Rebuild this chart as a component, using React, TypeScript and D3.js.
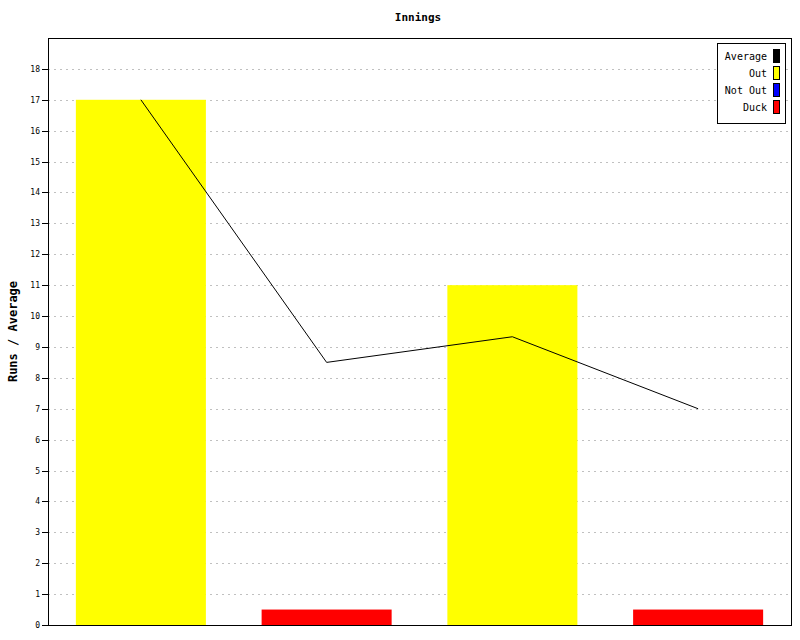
import React from "react";
import * as d3 from "d3";

const categories = ["1", "2", "3", "4"];
const outValues = [17, 0, 11, 0];
const notOutValues = [0, 0, 0, 0];
const duckValues = [0, 0.5, 0, 0.5];
const averageValues = [17, 8.5, 9.33, 7];
const yTicks = [0, 1, 2, 3, 4, 5, 6, 7, 8, 9, 10, 11, 12, 13, 14, 15, 16, 17, 18];
const legendItems = [
  { label: "Average", color: "#000000" },
  { label: "Out", color: "#ffff00" },
  { label: "Not Out", color: "#0000ff" },
  { label: "Duck", color: "#ff0000" },
];

const W = 800;
const H = 640;
const left = 48;
const right = 791;
const top = 38;
const bottom = 625;
const font = "'DejaVu Sans Mono', monospace";

export default function App() {
  const x = d3.scaleBand<string>().domain(categories).range([left, right]).paddingInner(0.3).paddingOuter(0.15);
  const xc = d3.scalePoint<string>().domain(categories).range([left, right]).padding(0.5);
  const y = d3.scaleLinear().domain([0, 19]).range([bottom, top]);
  const line = d3
    .line<number>()
    .x((_, i) => xc(categories[i]) as number)
    .y((d) => y(d));

  const series = [
    { values: outValues, color: "#ffff00" },
    { values: notOutValues, color: "#0000ff" },
    { values: duckValues, color: "#ff0000" },
  ];

  return (
    <svg width={W} height={H} style={{ position: "absolute", left: 0, top: 0, background: "#fff" }}>
      <rect x={0} y={0} width={W} height={H} fill="#fff" />
      <text x={418} y={21} textAnchor="middle" fontFamily={font} fontSize={11} fontWeight="bold">
        Innings
      </text>
      {yTicks.map((t) => (
        <g key={t}>
          {t > 0 && (
            <line x1={left} x2={right} y1={Math.round(y(t)) + 0.5} y2={Math.round(y(t)) + 0.5} stroke="#c0c0c0" strokeDasharray="2,4" />
          )}
          <line x1={42} x2={left} y1={Math.round(y(t)) + 0.5} y2={Math.round(y(t)) + 0.5} stroke="#000" />
          <text x={40} y={Math.round(y(t)) + 3} textAnchor="end" fontFamily={font} fontSize={8}>
            {t}
          </text>
        </g>
      ))}
      {series.map((s, si) =>
        s.values.map((v, i) =>
          v > 0 ? (
            <rect
              key={si + "-" + i}
              x={x(categories[i]) as number}
              y={y(v)}
              width={x.bandwidth()}
              height={y(0) - y(v)}
              fill={s.color}
            />
          ) : null
        )
      )}
      <path d={line(averageValues) || ""} fill="none" stroke="#000" strokeWidth={1} />
      <rect x={left + 0.5} y={top + 0.5} width={right - left} height={bottom - top} fill="none" stroke="#000" />
      <text
        transform={`translate(17,${(top + bottom) / 2}) rotate(-90)`}
        textAnchor="middle"
        fontFamily={font}
        fontSize={12}
        fontWeight="bold"
      >
        Runs / Average
      </text>
      <rect x={717.5} y={43.5} width={68} height={80} fill="#fff" stroke="#000" />
      {legendItems.map((it, i) => (
        <g key={it.label}>
          <text x={767} y={60 + i * 17} textAnchor="end" fontFamily={font} fontSize={10}>
            {it.label}
          </text>
          <rect x={773.5} y={49.5 + i * 17} width={6} height={13} fill={it.color} stroke="#000" />
        </g>
      ))}
    </svg>
  );
}
